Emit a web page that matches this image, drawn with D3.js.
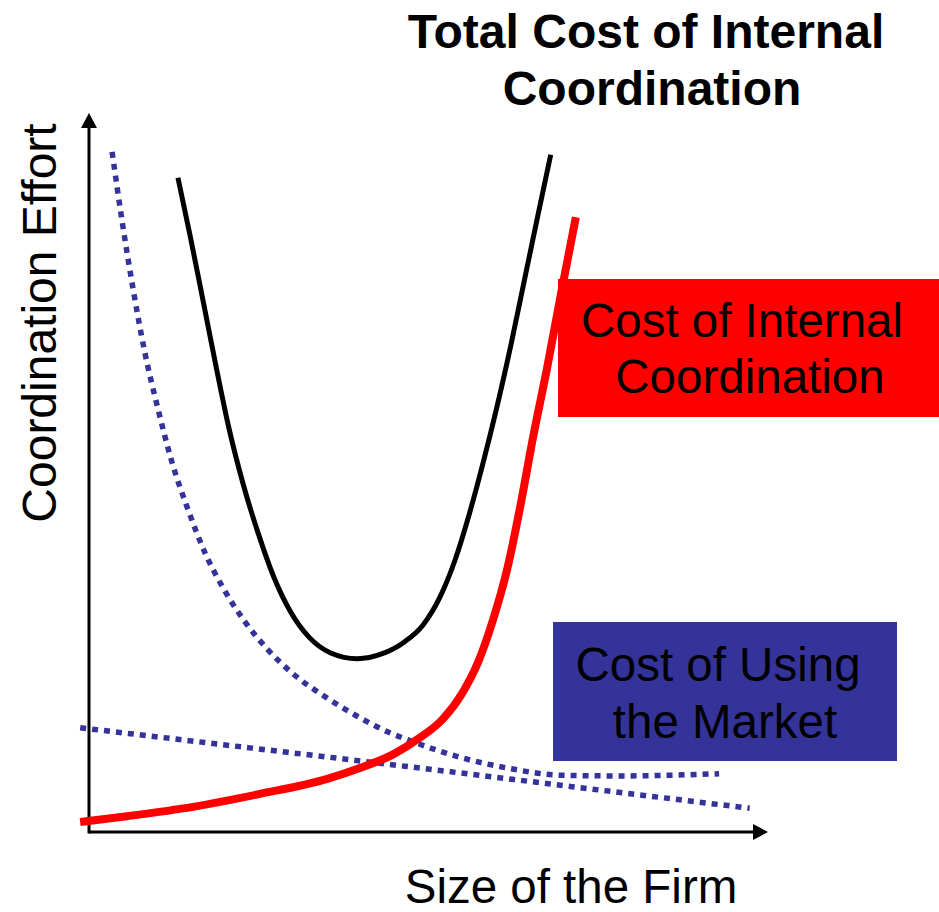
<!DOCTYPE html>
<html>
<head>
<meta charset="utf-8">
<script src="https://cdn.jsdelivr.net/npm/d3@7"></script>
<style>
  html, body { margin: 0; padding: 0; background: #fff; }
  text { font-family: "Liberation Sans", Arial, sans-serif; fill: #000; }
</style>
</head>
<body>
<div id="chart"></div>
<script>
// values, in "effort" units 0..100 on both axes
var internalSize = [-1.3, 5.6, 15.3, 25.2, 35.1, 39.9, 44.8, 48.7, 52.1, 54.9, 57.3, 59.5, 61.6, 63.5, 65.4, 67.5, 69.5, 71.7];
var internalCost = [1.4, 2.2, 3.5, 5.3, 7.4, 8.9, 10.8, 13.1, 15.7, 19.2, 23.6, 29.5, 36.6, 45.2, 54.9, 64.7, 74.8, 85.5];

var totalSize = [13.1, 14.9, 16.8, 18.7, 20.6, 22.7, 24.9, 27.2, 29.7, 32.4, 35.6, 39.5, 43.2, 46.4, 49.2, 51.7, 53.9, 56.0, 58.0, 60.1, 62.2, 64.2, 66.1, 68.0];
var totalCost = [91.0, 82.9, 73.9, 64.8, 56.2, 48.4, 41.6, 35.5, 30.6, 27.1, 24.9, 24.1, 24.8, 26.4, 28.8, 32.7, 37.8, 44.2, 51.2, 59.2, 68.0, 77.1, 85.7, 94.2];

var marketSize = [3.4, 4.9, 6.5, 8.2, 10.2, 12.2, 14.6, 17.1, 19.9, 23.0, 26.4, 30.3, 34.8, 39.5, 44.3, 47.3, 54.6, 61.6, 69.4, 78.2, 92.8];
var marketCost = [94.6, 84.8, 75.5, 66.8, 58.7, 51.5, 44.8, 38.8, 33.7, 29.2, 25.3, 21.8, 18.8, 16.1, 13.8, 12.7, 10.4, 8.9, 7.9, 7.8, 8.1];

var marketLineSize = [-1.3, 23.7, 48.7, 73.8, 97.3];
var marketLineCost = [14.5, 11.7, 8.9, 6.0, 3.3];

var titleLines = ["Total Cost of Internal", "Coordination"];
var internalLabel = ["Cost of Internal", "Coordination"];
var marketLabel = ["Cost of Using", "the Market"];
var xLabel = "Size of the Firm";
var yLabel = "Coordination Effort";

var width = 939, height = 912;

var svg = d3.select("#chart").append("svg")
    .attr("width", width)
    .attr("height", height);

var x = d3.scaleLinear().domain([0, 100]).range([89, 768]);
var y = d3.scaleLinear().domain([0, 100]).range([832, 113]);

var line = d3.line()
    .x(function(d) { return x(d[0]); })
    .y(function(d) { return y(d[1]); })
    .curve(d3.curveMonotoneX);

function zipPts(xs, ys) {
    return xs.map(function(v, i) { return [v, ys[i]]; });
}

// axes with arrow heads
var ax = svg.append("g").attr("class", "axes");
ax.append("line")
    .attr("x1", x(0)).attr("y1", y(0) + 1.5)
    .attr("x2", x(0)).attr("y2", y(100) + 12)
    .attr("stroke", "#000").attr("stroke-width", 3);
ax.append("line")
    .attr("x1", x(0)).attr("y1", y(0))
    .attr("x2", x(100) - 12).attr("y2", y(0))
    .attr("stroke", "#000").attr("stroke-width", 3);
ax.append("path")
    .attr("d", "M" + x(0) + "," + y(100) + "l-8,15h16z")
    .attr("fill", "#000");
ax.append("path")
    .attr("d", "M" + x(100) + "," + y(0) + "l-15,-8v16z")
    .attr("fill", "#000");

// market cost (dotted)
svg.append("path")
    .datum(zipPts(marketLineSize, marketLineCost))
    .attr("d", line)
    .attr("fill", "none")
    .attr("stroke", "#333399")
    .attr("stroke-width", 5.5)
    .attr("stroke-dasharray", "6,6");

svg.append("path")
    .datum(zipPts(marketSize, marketCost))
    .attr("d", line)
    .attr("fill", "none")
    .attr("stroke", "#333399")
    .attr("stroke-width", 5.5)
    .attr("stroke-dasharray", "6,6");

// total cost
svg.append("path")
    .datum(zipPts(totalSize, totalCost))
    .attr("d", line)
    .attr("fill", "none")
    .attr("stroke", "#000")
    .attr("stroke-width", 5);

// internal cost
svg.append("path")
    .datum(zipPts(internalSize, internalCost))
    .attr("d", line)
    .attr("fill", "none")
    .attr("stroke", "#ff0000")
    .attr("stroke-width", 8);

// label boxes
svg.append("rect")
    .attr("x", 558).attr("y", 279)
    .attr("width", 939 - 558).attr("height", 138)
    .attr("fill", "#ff0000");
svg.append("g").selectAll("text")
    .data(internalLabel)
    .enter().append("text")
    .attr("x", function(d, i) { return i === 0 ? 742 : 750; })
    .attr("y", function(d, i) { return 337 + i * 56; })
    .attr("text-anchor", "middle")
    .attr("font-size", 47.5)
    .text(function(d) { return d; });

svg.append("rect")
    .attr("x", 553).attr("y", 622)
    .attr("width", 344).attr("height", 139)
    .attr("fill", "#333399");
svg.append("g").selectAll("text")
    .data(marketLabel)
    .enter().append("text")
    .attr("x", function(d, i) { return i === 0 ? 718 : 725; })
    .attr("y", function(d, i) { return 681 + i * 57; })
    .attr("text-anchor", "middle")
    .attr("font-size", 47.5)
    .text(function(d) { return d; });

// title
svg.append("g").selectAll("text")
    .data(titleLines)
    .enter().append("text")
    .attr("x", function(d, i) { return i === 0 ? 646 : 652; })
    .attr("y", function(d, i) { return 48 + i * 57; })
    .attr("text-anchor", "middle")
    .attr("font-size", 48)
    .attr("font-weight", "bold")
    .text(function(d) { return d; });

// axis titles
svg.append("text")
    .attr("x", 571).attr("y", 903)
    .attr("text-anchor", "middle")
    .attr("font-size", 47.5)
    .text(xLabel);

svg.append("text")
    .attr("transform", "translate(56,323) rotate(-90)")
    .attr("text-anchor", "middle")
    .attr("font-size", 48)
    .text(yLabel);
</script>
</body>
</html>
